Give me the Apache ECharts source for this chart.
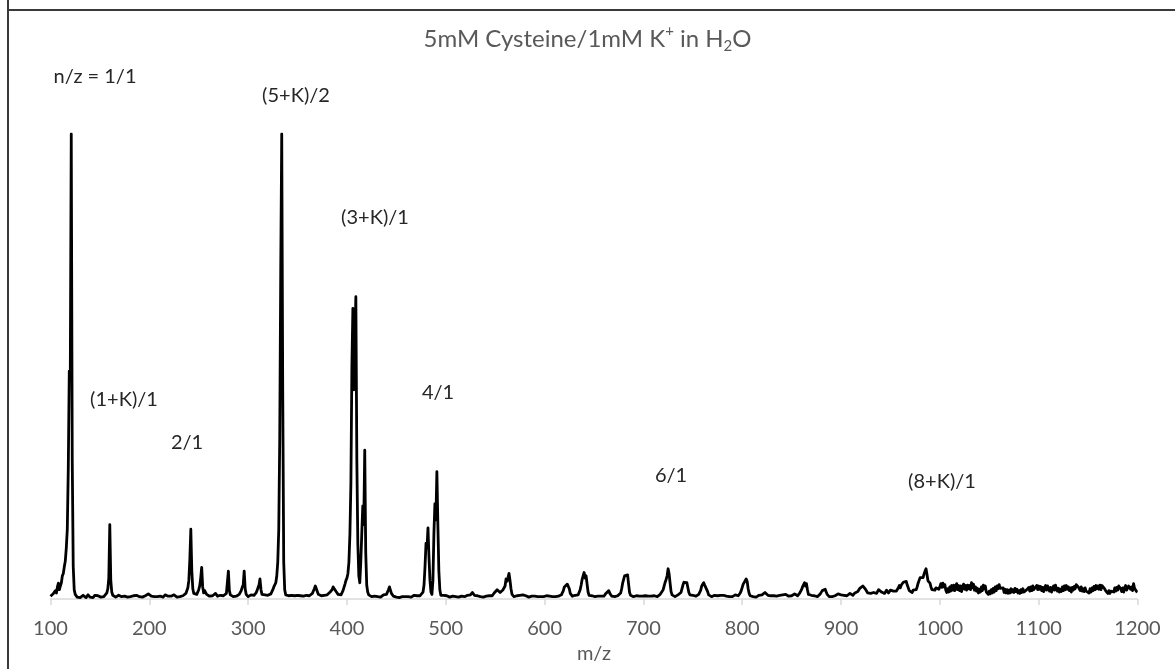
<!DOCTYPE html>
<html>
<head>
<meta charset="utf-8">
<title>5mM Cysteine/1mM K+ in H2O</title>
<script src="https://cdn.jsdelivr.net/npm/echarts@6/dist/echarts.min.js"></script>
<style>
  html, body { margin: 0; padding: 0; background: #ffffff; }
  #chart { width: 1175px; height: 669px; }
</style>
</head>
<body>
<div id="chart"></div>
<script>
// Mass spectrum intensities (relative %, base peak = 100), one value per m/z unit.
const seg100 = [
  0.6, 0.9, 0.5, 1.2, 1.0, 1.8, 1.3, 2.6, 3.4, 2.0,
  2.8, 3.5, 5.0, 5.5, 7.0, 8.2, 11, 15, 28, 49,
  47, 100, 30, 7, 2.0, 1.0, 0.6, 0.4, 0.7, 0.5,
  0.3, 0.6, 0.4, 0.8, 0.5, 0.7, 0.3, 0.5, 0.9, 0.6,
  0.4, 0.7, 0.5, 0.3, 0.6, 0.8, 0.5, 0.4, 0.7, 0.5,
  0.6, 0.4, 0.8, 0.6, 0.5, 0.7, 0.9, 1.3, 2.2, 4.5,
  16, 4.0, 1.5, 0.8, 0.5, 0.7, 0.4, 0.6, 0.5, 0.8,
  0.4, 0.6, 0.5, 0.7, 0.3, 0.6, 0.8, 0.5, 0.4, 0.7,
  0.6, 0.5, 0.9, 0.4, 0.7, 0.5, 0.6, 0.8, 0.4, 0.6,
  0.5, 0.7, 0.6, 0.4, 0.8, 0.5, 0.7, 0.6, 0.9, 1.1
];
const seg200 = [
  1.5, 0.8, 0.6, 0.4, 0.7, 0.5, 0.6, 0.8, 0.5, 0.4,
  0.7, 0.6, 0.5, 0.8, 0.4, 0.6, 0.9, 0.5, 0.7, 0.6,
  0.4, 0.8, 0.6, 0.5, 0.7, 0.9, 0.5, 0.6, 0.4, 0.7,
  0.6, 0.5, 0.8, 0.6, 0.7, 0.9, 1.0, 1.2, 1.6, 2.4,
  4.0, 8.5, 15, 6.0, 2.2, 1.2, 0.9, 0.8, 1.0, 1.4,
  2.0, 2.8, 4.5, 6.8, 2.6, 1.3, 1.8, 1.5, 1.0, 0.7,
  0.9, 0.6, 0.8, 1.0, 0.7, 0.5, 0.8, 1.2, 0.9, 0.6,
  0.7, 0.5, 0.8, 0.6, 0.9, 0.7, 0.8, 1.0, 1.2, 1.6,
  6.0, 1.8, 0.9, 0.6, 0.8, 0.5, 0.7, 0.9, 0.6, 0.8,
  0.7, 1.0, 1.3, 1.8, 2.5, 3.0, 6.0, 2.2, 1.0, 0.7
];
const seg300 = [
  0.5, 0.8, 0.6, 0.9, 0.7, 0.6, 0.8, 1.0, 1.3, 1.8,
  2.4, 3.0, 4.3, 2.0, 1.0, 0.8, 0.6, 0.9, 0.7, 0.6,
  0.8, 0.6, 0.9, 1.1, 1.4, 2.0, 2.6, 3.0, 3.5, 5.0,
  8.0, 15, 35, 71, 100, 45, 8.0, 2.0, 0.9, 0.6,
  0.5, 0.7, 0.4, 0.6, 0.8, 0.5, 0.4, 0.7, 0.6, 0.5,
  0.8, 0.6, 0.4, 0.7, 0.5, 0.9, 0.6, 0.5, 0.7, 0.8,
  0.6, 0.9, 0.7, 1.0, 0.8, 1.2, 1.6, 2.2, 2.8, 2.4,
  1.6, 1.0, 0.8, 1.1, 0.7, 0.6, 0.9, 0.8, 1.0, 0.7,
  0.9, 1.2, 1.0, 1.5, 1.8, 2.0, 2.6, 2.2, 2.4, 1.6,
  1.2, 1.0, 1.4, 1.1, 0.9, 1.3, 1.8, 2.5, 3.2, 4.0
];
const seg400 = [
  4.5, 5.5, 8, 14, 25, 50, 62.5, 45, 55, 65,
  30, 12, 5, 3.5, 8, 14, 20, 16, 32, 10,
  3, 1.5, 0.9, 0.6, 0.8, 0.5, 0.7, 0.4, 0.6, 0.5,
  0.7, 0.5, 0.8, 0.6, 0.4, 0.7, 0.5, 0.9, 0.6, 0.8,
  1.0, 1.4, 2.0, 2.6, 2.2, 1.2, 0.8, 0.6, 0.5, 0.7,
  0.4, 0.6, 0.5, 0.3, 0.6, 0.4, 0.5, 0.7, 0.4, 0.5,
  0.6, 0.4, 0.5, 0.7, 0.5, 0.4, 0.6, 0.5, 0.8, 0.6,
  0.5, 0.7, 0.6, 0.9, 0.7, 0.8, 1.0, 1.5, 3.0, 7.0,
  12, 11, 15.3, 9, 4, 1.5, 1.0, 4, 14, 20.5,
  17, 27.4, 16, 6, 2, 0.8, 0.6, 0.5, 0.8, 0.6
];
const seg500 = [
  0.4, 0.7, 0.5, 0.6, 0.4, 0.8, 0.5, 0.6, 0.7, 0.4,
  0.5, 0.7, 0.6, 0.4, 0.8, 0.5, 0.6, 0.4, 0.7, 0.5,
  0.6, 0.5, 0.8, 0.6, 0.7, 0.9, 1.1, 1.4, 1.2, 0.8,
  0.6, 0.5, 0.7, 0.4, 0.6, 0.5, 0.8, 0.6, 0.4, 0.7,
  0.5, 0.6, 0.8, 0.5, 0.7, 0.6, 0.9, 0.7, 1.0, 1.3,
  1.2, 1.6, 2.0, 2.2, 1.8, 1.4, 1.2, 1.5, 2.0, 2.4,
  2.8, 4.3, 3.8, 4.6, 5.5, 4.0, 2.2, 1.0, 0.7, 0.5,
  0.6, 0.4, 0.7, 0.5, 0.6, 0.8, 0.5, 0.7, 0.9, 1.1,
  1.0, 0.7, 0.5, 0.6, 0.4, 0.7, 0.5, 0.6, 0.8, 0.5,
  0.6, 0.4, 0.7, 0.5, 0.6, 0.8, 0.5, 0.7, 0.6, 0.5
];
const seg600 = [
  0.6, 0.4, 0.7, 0.5, 0.8, 0.6, 0.4, 0.7, 0.5, 0.6,
  0.8, 0.5, 0.7, 0.4, 0.6, 0.5, 0.7, 0.9, 1.2, 1.8,
  2.6, 3.0, 2.8, 3.2, 3.0, 2.2, 1.2, 0.8, 0.6, 0.7,
  0.5, 0.8, 0.6, 0.7, 0.9, 1.2, 2.0, 3.0, 4.2, 4.0,
  5.7, 4.5, 5.0, 3.2, 1.5, 0.8, 0.6, 0.5, 0.7, 0.4,
  0.6, 0.5, 0.7, 0.4, 0.6, 0.8, 0.5, 0.6, 0.4, 0.7,
  0.6, 0.9, 1.2, 1.6, 1.4, 1.8, 1.2, 0.8, 0.6, 0.5,
  0.7, 0.5, 0.6, 0.4, 0.7, 0.6, 0.9, 1.3, 2.2, 3.4,
  4.2, 5.0, 4.6, 5.4, 5.2, 3.2, 1.4, 0.8, 0.6, 0.7,
  0.5, 0.8, 0.6, 0.7, 0.5, 0.9, 0.6, 0.8, 0.7, 0.6
];
const seg700 = [
  0.8, 0.5, 0.7, 0.6, 0.9, 0.6, 0.5, 0.8, 0.6, 0.7,
  0.5, 0.7, 0.6, 0.8, 0.5, 0.6, 0.9, 1.0, 0.8, 1.4,
  2.0, 2.8, 3.6, 4.2, 5.0, 6.5, 5.4, 3.4, 1.6, 0.9,
  0.6, 0.8, 0.5, 0.7, 0.6, 0.9, 0.7, 1.0, 1.4, 2.2,
  3.0, 3.6, 3.4, 3.9, 3.5, 2.4, 1.4, 0.9, 0.7, 0.6,
  0.8, 0.5, 0.7, 0.6, 0.9, 0.7, 1.0, 1.3, 1.9, 2.8,
  3.2, 3.5, 3.0, 3.4, 2.6, 1.6, 0.9, 0.7, 0.6, 0.5,
  0.7, 0.5, 0.8, 0.6, 0.4, 0.7, 0.5, 0.6, 0.8, 0.5,
  0.6, 0.8, 0.5, 0.7, 0.6, 0.9, 0.7, 0.5, 0.6, 0.8,
  0.5, 0.7, 0.6, 0.9, 0.8, 0.6, 0.7, 0.9, 1.3, 1.8
];
const seg800 = [
  2.5, 3.2, 3.6, 3.4, 4.3, 3.8, 2.2, 1.2, 0.7, 0.6,
  0.8, 0.5, 0.7, 0.6, 0.4, 0.7, 0.6, 0.8, 0.5, 0.7,
  0.9, 1.2, 1.0, 1.4, 1.6, 1.2, 0.8, 0.6, 0.5, 0.7,
  0.6, 0.4, 0.7, 0.8, 0.5, 0.6, 0.9, 0.7, 0.8, 0.6,
  0.7, 0.9, 0.6, 0.8, 1.0, 0.7, 0.9, 0.6, 0.8, 1.0,
  0.7, 0.9, 0.8, 1.1, 0.8, 1.0, 0.7, 0.9, 1.2, 1.6,
  2.0, 2.6, 3.0, 3.5, 2.8, 3.3, 2.0, 1.0, 0.7, 0.6,
  0.8, 0.6, 0.5, 0.7, 0.6, 0.8, 0.5, 0.7, 0.9, 1.1,
  1.4, 1.8, 2.0, 1.7, 2.1, 1.5, 1.0, 0.7, 0.5, 0.6,
  0.7, 0.5, 0.8, 0.9, 0.7, 1.0, 0.8, 1.1, 0.9, 0.8
];
const seg900 = [
  0.9, 0.7, 1.0, 0.8, 1.1, 0.9, 0.7, 1.0, 0.8, 1.2,
  0.9, 1.1, 0.8, 1.0, 1.3, 1.1, 1.4, 1.6, 1.9, 2.3,
  2.6, 2.3, 2.8, 3.0, 2.6, 2.0, 1.6, 1.3, 1.6, 1.4,
  1.2, 1.5, 1.1, 1.4, 1.8, 1.5, 1.2, 1.6, 2.0, 2.2,
  1.8, 1.5, 1.3, 1.6, 1.2, 1.5, 1.9, 1.6, 1.3, 1.6,
  1.9, 2.3, 2.0, 1.7, 1.5, 1.3, 1.7, 2.0, 2.4, 2.9,
  2.4, 3.0, 3.4, 3.6, 3.9, 3.5, 3.8, 3.0, 2.4, 1.8,
  1.5, 1.7, 1.4, 1.9, 1.6, 1.5, 2.0, 2.6, 3.4, 4.0,
  4.6, 4.2, 5.0, 4.6, 5.4, 6.0, 6.5, 5.2, 3.9, 4.2,
  3.4, 2.6, 2.0, 1.8, 2.2, 1.9, 2.4, 2.8, 2.4, 2.1
];
const seg1000 = [
  2.6, 3.3, 2.5, 3.4, 2.6, 3.1, 1.9, 1.4, 2.2, 1.5,
  2.6, 1.7, 2.9, 1.9, 3.0, 1.8, 2.8, 3.3, 2.0, 2.9,
  1.8, 2.8, 1.6, 2.7, 3.2, 2.1, 2.9, 1.9, 3.0, 2.2,
  2.9, 2.0, 3.5, 2.4, 3.2, 1.9, 2.6, 1.7, 2.3, 1.3,
  2.1, 1.5, 2.6, 1.8, 3.0, 2.2, 2.8, 1.5, 1.9, 1.0,
  1.7, 1.1, 2.0, 1.3, 2.3, 1.5, 2.6, 1.8, 2.8, 2.2,
  3.1, 2.3, 2.7, 1.9, 2.4, 1.4, 2.1, 1.3, 2.0, 1.2,
  1.9, 1.3, 2.2, 1.5, 2.0, 1.4, 2.3, 1.6, 2.1, 1.3,
  1.8, 1.2, 2.0, 1.4, 2.2, 1.5, 1.9, 1.1, 2.0, 1.6,
  2.5, 1.7, 2.6, 1.8, 2.8, 2.0, 2.4, 1.7, 2.9, 2.0
];
const seg1100 = [
  2.8, 2.1, 2.7, 1.8, 2.5, 1.6, 2.4, 2.9, 1.9, 2.8,
  2.2, 1.7, 2.5, 1.5, 2.3, 2.8, 1.9, 3.0, 2.2, 1.7,
  2.3, 1.5, 2.1, 1.6, 2.6, 1.8, 2.8, 2.0, 2.9, 2.1,
  2.6, 1.8, 2.4, 1.5, 2.5, 1.9, 2.7, 2.2, 3.1, 3.5,
  2.6, 2.9, 1.8, 2.6, 1.7, 2.2, 1.6, 2.4, 1.7, 1.4,
  2.0, 1.3, 2.2, 1.5, 2.4, 1.8, 2.7, 2.0, 2.9, 2.2,
  2.8, 2.1, 3.0, 2.0, 2.9, 3.2, 2.4, 2.8, 1.7, 1.9,
  1.2, 1.8, 1.2, 1.7, 1.3, 2.1, 1.5, 2.4, 1.7, 2.5,
  1.9, 2.8, 3.2, 2.2, 1.6, 2.4, 1.5, 2.3, 2.9, 1.9,
  2.2, 2.8, 3.2, 2.1, 2.6, 1.8, 3.3, 2.3, 2.7, 1.6,
  1.5
];

const mzStart = 100;
const xTicks = { min: 100, max: 1200, step: 100 };

// Peak assignments written on the plot
const peakLabels = ['n/z = 1/1', '(5+K)/2', '(3+K)/1', '(1+K)/1', '2/1', '4/1', '6/1', '(8+K)/1'];

const intensity = [].concat(seg100, seg200, seg300, seg400, seg500, seg600,
                            seg700, seg800, seg900, seg1000, seg1100);
const spectrum = intensity.map((v, i) => [mzStart + i, v]);

const labelPos = [
  [95, 77], [296, 96], [375, 218], [124, 400],
  [187, 443], [438, 393], [671, 476], [942, 482]
];

const FONT = 'Lato, "Open Sans", sans-serif';
const chart = echarts.init(document.getElementById('chart'), null, { renderer: 'canvas' });

chart.setOption({
  animation: false,
  backgroundColor: '#ffffff',
  title: {
    text: '5mM Cysteine/1mM K{sup|+} in H{sub|2}O',
    left: 'center',
    top: 19,
    textStyle: {
      fontFamily: FONT,
      fontSize: 24,
      fontWeight: 'normal',
      color: '#595959',
      lineHeight: 30,
      rich: {
        sup: { fontFamily: FONT, fontSize: 15, color: '#595959', verticalAlign: 'top', lineHeight: 16 },
        sub: { fontFamily: FONT, fontSize: 15, color: '#595959', verticalAlign: 'bottom', lineHeight: 16 }
      }
    }
  },
  grid: { left: 50.5, right: 37.5, top: 134, bottom: 70, containLabel: false },
  xAxis: {
    type: 'value',
    min: xTicks.min,
    max: xTicks.max,
    interval: xTicks.step,
    name: 'm/z',
    nameLocation: 'middle',
    nameGap: 45,
    nameTextStyle: { fontFamily: FONT, fontSize: 20, color: '#595959' },
    axisLine: { show: true, lineStyle: { color: '#d9d9d9', width: 1.5 } },
    axisTick: { show: true, length: 6, lineStyle: { color: '#d9d9d9', width: 1.5 } },
    axisLabel: {
      fontFamily: FONT, fontSize: 20, color: '#595959', margin: 20,
      formatter: v => String(v)
    },
    splitLine: { show: false }
  },
  yAxis: {
    type: 'value',
    min: 0,
    max: 100,
    show: false,
    splitLine: { show: false }
  },
  series: [{
    type: 'line',
    data: spectrum,
    showSymbol: false,
    symbol: 'none',
    sampling: null,
    lineStyle: { color: '#000000', width: 2.8, join: 'round' },
    z: 3
  }],
  graphic: [
    { type: 'line', shape: { x1: 8, y1: 0, x2: 8, y2: 669 }, style: { stroke: '#3a3a3a', lineWidth: 2 } },
    { type: 'line', shape: { x1: 8, y1: 10, x2: 1175, y2: 10 }, style: { stroke: '#3a3a3a', lineWidth: 2 } }
  ].concat(peakLabels.map((t, i) => ({
    type: 'text',
    x: labelPos[i][0],
    y: labelPos[i][1],
    style: {
      text: t,
      fontFamily: FONT,
      fontSize: 20,
      fill: '#262626',
      align: 'center',
      verticalAlign: 'middle'
    },
    z: 10
  })))
});
</script>
</body>
</html>
